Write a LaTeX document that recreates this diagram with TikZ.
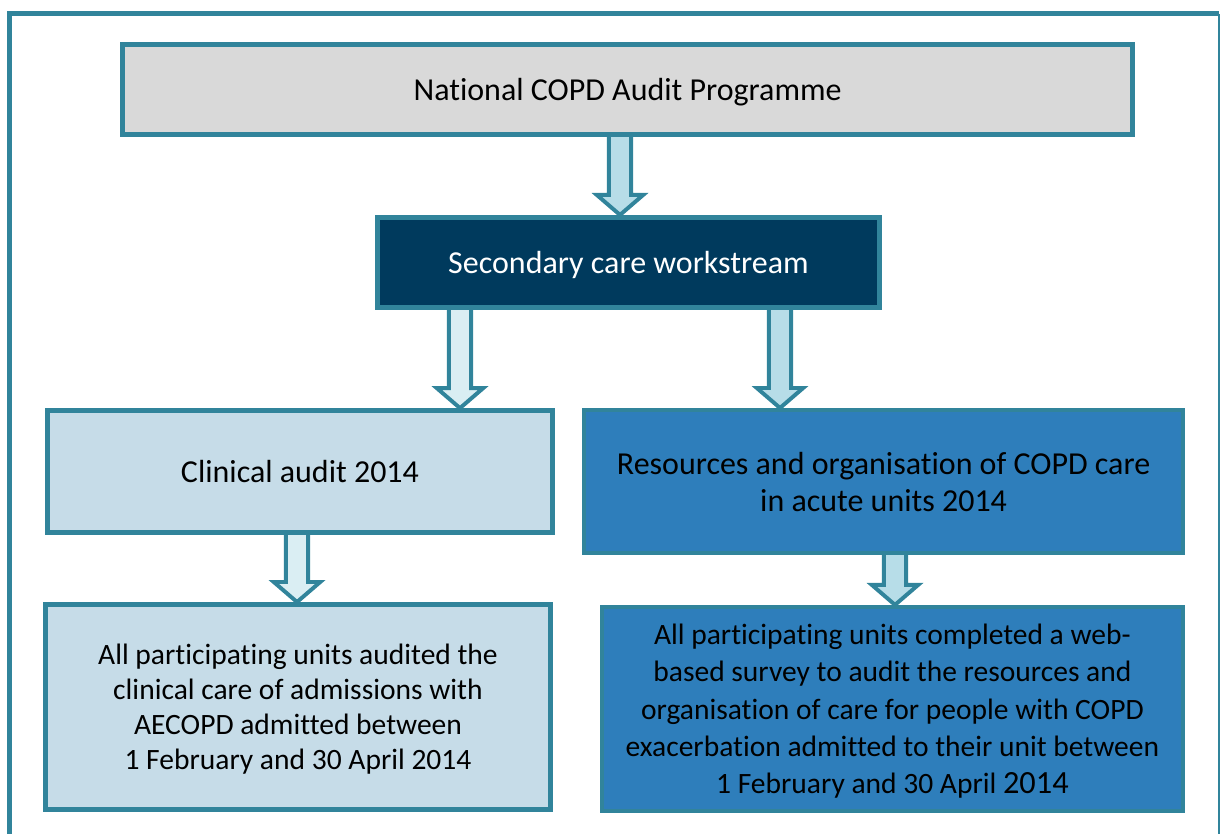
\documentclass[tikz,border=0pt]{standalone}
\usepackage{fontspec}
\setmainfont{Carlito}[Ligatures=NoCommon]
\usetikzlibrary{calc,backgrounds}

\definecolor{frameteal}{HTML}{31849B}
\definecolor{boxgrey}{HTML}{D9D9D9}
\definecolor{boxnavy}{HTML}{003A5D}
\definecolor{boxpale}{HTML}{C6DCE8}
\definecolor{boxblue}{HTML}{2E7EBB}
\definecolor{arrowmid}{HTML}{B7DDE8}
\definecolor{arrowpale}{HTML}{DAEEF3}

\tikzset{
  stagebox/.style={draw=frameteal, line width=3.5pt, inner sep=0pt, align=center,
    text depth=0pt, font=\fontsize{22.75}{26.2}\selectfont},
  notebox/.style={stagebox, font=\fontsize{21}{24.8}\selectfont},
}

% hollow block arrow: fill, x of shaft, upper node, lower node
\newcommand{\flowarrow}[4]{%
  \coordinate (fa) at (#2,0);
  \draw[frameteal, line width=2.8pt, fill=#1, line join=miter]
    ($(#3.south -| fa)+(-0.28,0)$) -- ($(#4.north -| fa)+(-0.28,0.5)$)
    -- ($(#4.north -| fa)+(-0.58,0.5)$) -- (#4.north -| fa)
    -- ($(#4.north -| fa)+(0.58,0.5)$) -- ($(#4.north -| fa)+(0.28,0.5)$)
    -- ($(#3.south -| fa)+(0.28,0)$);
}

\begin{document}
\begin{tikzpicture}
\useasboundingbox (0,0) rectangle (30.5,20.85);

% outer frame, open at the bottom
\draw[frameteal, line width=3.5pt] (0.2375,0) -- (0.2375,20.51) -- (30.475,20.51);
\draw[frameteal, line width=0.8pt] (30.475,20.51) -- (30.475,0);

\node[stagebox, fill=boxgrey, minimum width=25.25cm, minimum height=2.25cm] (nat) at (15.69,18.61) {National COPD Audit Programme};
\node[stagebox, fill=boxnavy, text=white, minimum width=12.55cm, minimum height=2.25cm] (sec) at (15.71,14.29) {Secondary care workstream};
\node[stagebox, fill=boxpale, minimum width=12.625cm, minimum height=3.05cm] (clin) at (7.5,9.06) {Clinical audit 2014};
\node[stagebox, fill=boxblue, line width=3pt, minimum width=14.975cm, minimum height=3.575cm] (res) at (22.09,8.81) {Resources and organisation of COPD care\\in acute units 2014};
\node[notebox, fill=boxpale, minimum width=12.625cm, minimum height=5.125cm] (clinnote) at (7.45,3.175)
  {All participating units audited the\\clinical care of admissions with\\AECOPD admitted between\\1 February and 30 April 2014};
\node[notebox, fill=boxblue, line width=3pt, minimum width=14.525cm, minimum height=5.1cm,
  font=\fontsize{21}{26.5}\selectfont] (resnote) at (22.31,3.125)
  {All participating units completed a web-\\based survey to audit the resources and\\organisation of care for people with COPD\\exacerbation admitted to their unit between\\1 February and 30 April {\fontsize{23}{26.5}\selectfont 2014}};

\begin{scope}[on background layer]
\flowarrow{arrowmid}{15.5}{nat}{sec}
\flowarrow{arrowpale}{11.5}{sec}{clin}
\flowarrow{arrowmid}{19.5}{sec}{res}
\flowarrow{arrowpale}{7.425}{clin}{clinnote}
\flowarrow{arrowmid}{22.375}{res}{resnote}
\end{scope}
\end{tikzpicture}
\end{document}
